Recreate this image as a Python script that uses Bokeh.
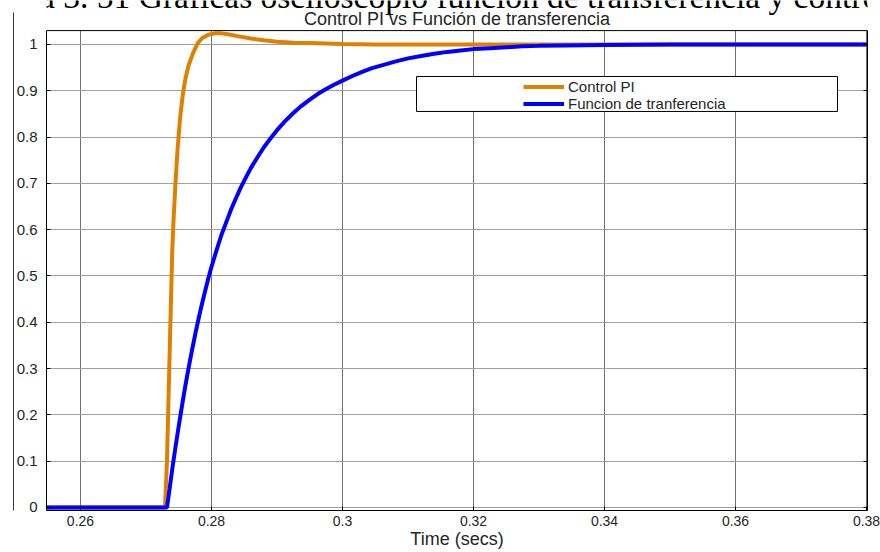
from bokeh.plotting import figure
from bokeh.models import (Label, Legend, LegendItem, BoxAnnotation, FixedTicker,
                          LinearAxis, Span, Grid)
from bokeh.embed import file_html
from bokeh.resources import INLINE

# Step responses (time in s, output in p.u.)
pi_time = [0.2548, 0.2729, 0.2732, 0.2735, 0.2738, 0.2740, 0.2742, 0.2745,
           0.2748, 0.2752, 0.2756, 0.2760, 0.2765, 0.2772, 0.2779, 0.2786,
           0.2795, 0.2805, 0.2815, 0.2825, 0.2840, 0.2860, 0.2880, 0.2900,
           0.2925, 0.2950, 0.2975, 0.3000, 0.3050, 0.3100, 0.3802]
pi_output = [0.0, 0.0, 0.10, 0.27, 0.44, 0.55, 0.62, 0.70,
             0.77, 0.84, 0.89, 0.925, 0.955, 0.982, 1.003, 1.014,
             1.021, 1.024, 1.024, 1.022, 1.018, 1.013, 1.009, 1.006,
             1.004, 1.003, 1.002, 1.001, 1.0, 1.0, 1.0]

tf_time = [0.2548, 0.2732, 0.2736, 0.2740, 0.2745, 0.2750, 0.2755, 0.2760,
           0.2765, 0.2770, 0.2775, 0.2780, 0.2785, 0.2790, 0.2795, 0.2800,
           0.2808, 0.2815, 0.2823, 0.2830, 0.2838, 0.2845, 0.2853, 0.2860,
           0.2870, 0.2880, 0.2890, 0.2900, 0.2912, 0.2925, 0.2937, 0.2950,
           0.2962, 0.2975, 0.2987, 0.3000, 0.3015, 0.3030, 0.3045, 0.3060,
           0.3080, 0.3100, 0.3120, 0.3140, 0.3160, 0.3180, 0.3200, 0.3225,
           0.3250, 0.3275, 0.3300, 0.3340, 0.3400, 0.3500, 0.3600, 0.3802]
tf_output = [0.0, 0.0, 0.040, 0.082, 0.130, 0.176, 0.220, 0.262,
             0.301, 0.338, 0.373, 0.406, 0.437, 0.466, 0.494, 0.520,
             0.557, 0.588, 0.618, 0.644, 0.670, 0.692, 0.714, 0.733,
             0.756, 0.778, 0.797, 0.815, 0.834, 0.852, 0.867, 0.881,
             0.893, 0.904, 0.913, 0.922, 0.932, 0.941, 0.949, 0.955,
             0.963, 0.970, 0.975, 0.980, 0.984, 0.987, 0.990, 0.992,
             0.994, 0.996, 0.997, 0.998, 0.999, 1.0, 1.0, 1.0]

x_ticks = [0.26, 0.28, 0.30, 0.32, 0.34, 0.36, 0.38]
x_tick_labels = ["0.26", "0.28", "0.3", "0.32", "0.34", "0.36", "0.38"]
y_ticks = [0.0, 0.1, 0.2, 0.3, 0.4, 0.5, 0.6, 0.7, 0.8, 0.9, 1.0]
y_tick_labels = ["0", "0.1", "0.2", "0.3", "0.4", "0.5", "0.6", "0.7", "0.8", "0.9", "1"]

series_names = ["Control PI", "Funcion de tranferencia"]
series_colors = ["#E08000", "#0000FF"]

FONT = "Liberation Sans"
INK = "#262626"

# axes box limits (data units); the drawing area above the box holds the titles
T0, T1 = 0.25481, 0.38015
V0, V1 = -0.0065, 1.030

p = figure(width=880, height=552, output_backend="svg", toolbar_location=None,
           x_range=(T0, T1), y_range=(V0, 1.0950),
           min_border_left=46, min_border_right=13,
           min_border_top=0, min_border_bottom=42)

p.background_fill_color = "white"
p.border_fill_color = "white"
p.outline_line_color = None
p.title.visible = False

# axes
p.xaxis.ticker = FixedTicker(ticks=x_ticks)
p.xaxis.major_label_overrides = dict(zip(x_ticks, x_tick_labels))
p.yaxis.ticker = FixedTicker(ticks=y_ticks)
p.yaxis.major_label_overrides = dict(zip(y_ticks, y_tick_labels))
p.yaxis.bounds = (V0, V1)
for ax in (p.xaxis[0], p.yaxis[0]):
    ax.major_tick_in = 4
    ax.major_tick_out = 0
    ax.minor_tick_in = 0
    ax.minor_tick_out = 0
    ax.axis_line_color = "black"
    ax.major_tick_line_color = "black"
    ax.major_label_text_font = FONT
    ax.major_label_text_color = INK
p.xaxis.major_label_text_font_size = "14px"
p.yaxis.major_label_text_font_size = "15px"
p.xaxis.major_label_standoff = 5
p.yaxis.major_label_standoff = 9
p.xaxis.axis_label = "Time (secs)"
p.xaxis.axis_label_text_font = FONT
p.xaxis.axis_label_text_font_size = "18px"
p.xaxis.axis_label_text_font_style = "normal"
p.xaxis.axis_label_text_color = INK
p.xaxis.axis_label_standoff = 0

# right edge of the axes box, with inward ticks and no labels
right_axis = LinearAxis(ticker=FixedTicker(ticks=y_ticks), bounds=(V0, V1),
                        major_label_overrides={t: "" for t in y_ticks},
                        major_label_text_color=None, major_label_standoff=0,
                        major_tick_in=4, major_tick_out=0,
                        minor_tick_in=0, minor_tick_out=0,
                        axis_line_color="black", major_tick_line_color="black")
p.add_layout(right_axis, "right")

# page margin rule to the left of the figure
page_rule = LinearAxis(ticker=FixedTicker(ticks=[]), bounds=(V0, 1.069),
                       major_tick_in=0, major_tick_out=0,
                       minor_tick_in=0, minor_tick_out=0,
                       major_label_standoff=0,
                       axis_line_color="#3a3a3a", axis_line_width=1)
p.add_layout(page_rule, "left")

# top edge of the axes box
p.add_layout(Span(location=V1, dimension="width", line_color="black", line_width=1))

# grid, kept inside the axes box
p.xgrid.grid_line_color = "#707070"
p.ygrid.grid_line_color = "#a0a0a0"
p.xgrid.grid_line_width = 1
p.ygrid.grid_line_width = 1
if "cross_bounds" in Grid.properties():
    p.xgrid.cross_bounds = (V0, V1)
else:
    p.xgrid.visible = False
    p.segment(x0=x_ticks, x1=x_ticks, y0=[V0] * len(x_ticks), y1=[V1] * len(x_ticks),
              line_color="#707070", line_width=1)

# traces
r_pi = p.line(pi_time, pi_output, line_color=series_colors[0], line_width=4)
r_tf = p.line(tf_time, tf_output, line_color=series_colors[1], line_width=4)

# legend frame
p.add_layout(BoxAnnotation(left=0.31130, right=0.37557, bottom=0.8553, top=0.9309,
                           fill_color="white", fill_alpha=1.0,
                           line_color="black", line_alpha=1.0, line_width=1))

legend = Legend(items=[LegendItem(label=series_names[0], renderers=[r_pi]),
                       LegendItem(label=series_names[1], renderers=[r_tf])],
                location=(477, 398), padding=0, spacing=0, margin=0,
                glyph_width=41, glyph_height=17, label_height=17,
                label_standoff=4,
                border_line_alpha=0, background_fill_alpha=0,
                label_text_font=FONT, label_text_font_size="15px",
                label_text_color=INK)
p.add_layout(legend)

# chart title, centred over the axes box
p.add_layout(Label(x=(T0 + T1) / 2, y=1.0557, text="Control PI vs Función de transferencia",
                   text_font=FONT, text_font_size="18px", text_color=INK,
                   text_align="center", text_baseline="alphabetic"))

# document caption running above the figure
p.add_layout(Label(x=0.24275, y=1.1033,
                   text="Figura 3. 51 Gráficas osciloscopio función de transferencia y control PI",
                   text_font="Liberation Serif", text_font_size="33.5px",
                   text_color="black", text_baseline="alphabetic"))

open("out.html", "w").write(file_html(p, INLINE))
